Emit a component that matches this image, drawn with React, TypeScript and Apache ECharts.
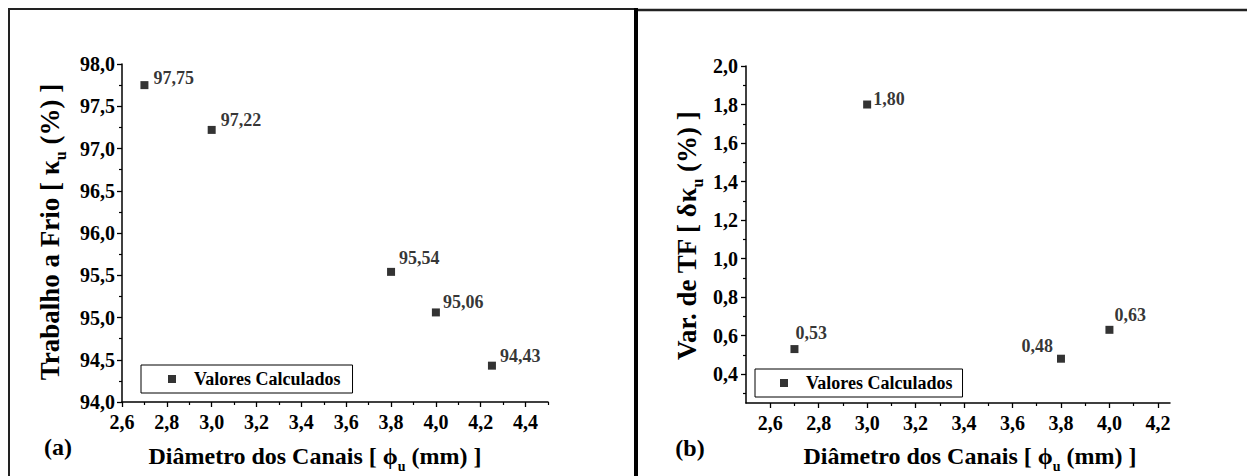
import React, { useEffect, useRef } from 'react';
import * as echarts from 'echarts';

// ---- data ----
const diamA = [2.7, 3.0, 3.8, 4.0, 4.25];
const workA = [97.75, 97.22, 95.54, 95.06, 94.43];
const diamB = [2.7, 3.0, 3.8, 4.0];
const varB = [0.53, 1.8, 0.48, 0.63];

const seriesName = 'Valores Calculados';

const xTicksA = [2.6, 2.8, 3.0, 3.2, 3.4, 3.6, 3.8, 4.0, 4.2, 4.4];
const xMinorA = [2.7, 2.9, 3.1, 3.3, 3.5, 3.7, 3.9, 4.1, 4.3, 4.5];
const yTicksA = [94.0, 94.5, 95.0, 95.5, 96.0, 96.5, 97.0, 97.5, 98.0];
const yMinorA = [94.25, 94.75, 95.25, 95.75, 96.25, 96.75, 97.25, 97.75];
const xTicksB = [2.6, 2.8, 3.0, 3.2, 3.4, 3.6, 3.8, 4.0, 4.2];
const xMinorB = [2.7, 2.9, 3.1, 3.3, 3.5, 3.7, 3.9, 4.1];
const yTicksB = [0.4, 0.6, 0.8, 1.0, 1.2, 1.4, 1.6, 1.8, 2.0];
const yMinorB = [0.3, 0.5, 0.7, 0.9, 1.1, 1.3, 1.5, 1.7, 1.9];

// ---- label placement (style only) ----
const labelPlaceA: [string, number, number][] = [
  ['right', 5, -7],
  ['right', 5, -10],
  ['right', 4, -14],
  ['right', 3, -10],
  ['right', 4, -10],
];
const labelPlaceB: [string, number, number][] = [
  ['right', -3, -16],
  ['right', 2, -6],
  ['left', -4, -13],
  ['right', 1, -15],
];

const FONT = "'Liberation Serif', 'Times New Roman', serif";
const comma1 = (v: number) => v.toFixed(1).replace('.', ',');
const comma2 = (v: number) => v.toFixed(2).replace('.', ',');

function majorAxis(grid: number, min: number, max: number, ticks: number[], pos: string, fontSize: number, margin: number) {
  return {
    type: 'value',
    gridIndex: grid,
    position: pos,
    min,
    max,
    axisLine: { show: true, onZero: false, lineStyle: { color: '#000', width: 1.5 } },
    axisTick: { show: true, length: 5, inside: false, customValues: ticks, lineStyle: { color: '#000', width: 1.3 } },
    axisLabel: {
      show: true,
      customValues: ticks,
      formatter: (v: number) => comma1(v),
      margin,
      color: '#000',
      fontFamily: FONT,
      fontWeight: 'bold',
      fontSize,
    },
    splitLine: { show: false },
  };
}

function minorAxis(grid: number, min: number, max: number, ticks: number[], pos: string) {
  return {
    type: 'value',
    gridIndex: grid,
    position: pos,
    min,
    max,
    axisLine: { show: false, onZero: false },
    axisTick: { show: true, length: 3, inside: false, customValues: ticks, lineStyle: { color: '#000', width: 1.2 } },
    axisLabel: { show: false },
    splitLine: { show: false },
  };
}

function titleRich(main: string, greek: string, rest: string, size: number) {
  return {
    text: `{m|${main}}{g|${greek}}{s|u}{m|${rest}}`,
    rich: {
      m: { fontFamily: FONT, fontWeight: 'bold', fontSize: size, fill: '#000', lineHeight: size + 10, verticalAlign: 'middle' },
      g: { fontFamily: FONT, fontWeight: 'bold', fontSize: size, fill: '#000', lineHeight: size + 10, verticalAlign: 'middle' },
      s: { fontFamily: FONT, fontWeight: 'bold', fontSize: Math.round(size * 0.6), fill: '#000', lineHeight: Math.round(size * 0.6), verticalAlign: 'bottom' },
    },
  };
}

function legendBlock(left: number, top: number, padL: number, padR: number) {
  return {
    data: [seriesName],
    left,
    top,
    orient: 'horizontal',
    icon: 'rect',
    itemWidth: 8,
    itemHeight: 8,
    selectedMode: false,
    borderColor: '#000',
    borderWidth: 1,
    borderRadius: 0,
    backgroundColor: '#fff',
    padding: [5, padR, 5, padL],
    textStyle: {
      color: '#000',
      fontFamily: FONT,
      fontWeight: 'bold',
      fontSize: 18,
      padding: [0, 0, 0, 13],
    },
  };
}

export default function App() {
  const ref = useRef<HTMLDivElement>(null);

  useEffect(() => {
    if (!ref.current) return;
    const chart = echarts.init(ref.current, undefined, { renderer: 'svg' });

    const dataA = diamA.map((x, i) => ({
      value: [x, workA[i]],
      label: { position: labelPlaceA[i][0], offset: [labelPlaceA[i][1], labelPlaceA[i][2]] },
    }));
    const dataB = diamB.map((x, i) => ({
      value: [x, varB[i]],
      label: { position: labelPlaceB[i][0], offset: [labelPlaceB[i][1], labelPlaceB[i][2]] },
    }));

    const pointLabel = {
      show: true,
      distance: 0,
      formatter: (p: any) => comma2(p.value[1]),
      color: '#000',
      fontFamily: FONT,
      fontWeight: 'bold',
      fontSize: 18,
    };

    const option: any = {
      animation: false,
      backgroundColor: '#fff',
      grid: [
        { left: 122, top: 64, width: 426, height: 338 },
        { left: 746, top: 66, width: 424, height: 337 },
      ],
      xAxis: [
        majorAxis(0, 2.6, 4.5, xTicksA, 'bottom', 20, 10),
        minorAxis(0, 2.6, 4.5, xMinorA, 'bottom'),
        majorAxis(1, 2.5, 4.25, xTicksB, 'bottom', 20, 10),
        minorAxis(1, 2.5, 4.25, xMinorB, 'bottom'),
      ],
      yAxis: [
        majorAxis(0, 94, 98, yTicksA, 'left', 20, 7),
        minorAxis(0, 94, 98, yMinorA, 'left'),
        majorAxis(1, 0.25, 2.0, yTicksB, 'left', 20, 8),
        minorAxis(1, 0.25, 2.0, yMinorB, 'left'),
      ],
      legend: [legendBlock(141, 365, 27, 12), legendBlock(755, 369, 25, 10)],
      series: [
        {
          name: seriesName,
          type: 'scatter',
          xAxisIndex: 0,
          yAxisIndex: 0,
          symbol: 'rect',
          symbolSize: 8,
          itemStyle: { color: '#000' },
          label: pointLabel,
          data: dataA,
        },
        {
          name: seriesName,
          type: 'scatter',
          xAxisIndex: 2,
          yAxisIndex: 2,
          symbol: 'rect',
          symbolSize: 8,
          itemStyle: { color: '#000' },
          label: pointLabel,
          data: dataB,
        },
      ],
      graphic: [
        // panel frames
        { type: 'line', silent: true, shape: { x1: 9, y1: 9, x2: 636, y2: 9 }, style: { stroke: '#222', lineWidth: 2 } },
        { type: 'line', silent: true, shape: { x1: 9, y1: 8, x2: 9, y2: 476 }, style: { stroke: '#222', lineWidth: 2 } },
        { type: 'line', silent: true, shape: { x1: 636, y1: 10, x2: 1247, y2: 10 }, style: { stroke: '#222', lineWidth: 2.5 } },
        { type: 'line', silent: true, shape: { x1: 636, y1: 8, x2: 636, y2: 476 }, style: { stroke: '#000', lineWidth: 4 } },
        // panel tags
        { type: 'text', x: 58, y: 447, style: { text: '(a)', fontFamily: FONT, fontWeight: 'bold', fontSize: 24, fill: '#000', align: 'center', verticalAlign: 'middle' } },
        { type: 'text', x: 690, y: 448, style: { text: '(b)', fontFamily: FONT, fontWeight: 'bold', fontSize: 24, fill: '#000', align: 'center', verticalAlign: 'middle' } },
        // x titles
        { type: 'text', x: 315, y: 456, style: { ...titleRich('Diâmetro dos Canais [ ', 'ϕ', ' (mm) ]', 24), align: 'center', verticalAlign: 'middle' } },
        { type: 'text', x: 970, y: 456, style: { ...titleRich('Diâmetro dos Canais [ ', 'ϕ', ' (mm) ]', 24), align: 'center', verticalAlign: 'middle' } },
        // y titles
        { type: 'text', x: 50, y: 232, rotation: Math.PI / 2, style: { ...titleRich('Trabalho a Frio [ ', 'κ', ' (%) ]', 27), align: 'center', verticalAlign: 'middle' } },
        { type: 'text', x: 687, y: 236, rotation: Math.PI / 2, style: { ...titleRich('Var. de TF [ δ', 'κ', ' (%) ]', 27), align: 'center', verticalAlign: 'middle' } },
      ],
    };

    chart.setOption(option);
    return () => chart.dispose();
  }, []);

  return (
    <div
      ref={ref}
      style={{ position: 'fixed', left: 0, top: 0, width: 1247, height: 476, background: '#fff' }}
    />
  );
}
